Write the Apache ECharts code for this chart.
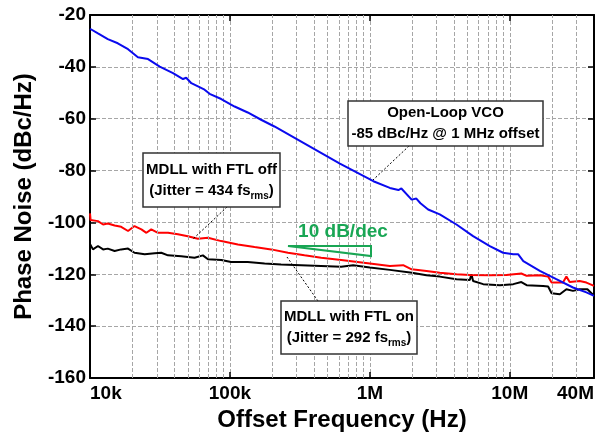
<!DOCTYPE html>
<html>
<head>
<meta charset="utf-8">
<script src="https://cdn.jsdelivr.net/npm/echarts@6/dist/echarts.min.js"></script>
<style>html,body{margin:0;padding:0;background:#fff}#c{width:607px;height:441px}</style>
</head>
<body>
<div id="c"></div>
<script>
// ---- data ----
const xTickValues = [1e4, 1e5, 1e6, 1e7, 4e7];
const xTickLabels = ['10k', '100k', '1M', '10M', '40M'];
const minorGridFreqs = [2e4,3e4,4e4,5e4,6e4,7e4,8e4,9e4,2e5,3e5,4e5,5e5,6e5,7e5,8e5,9e5,2e6,3e6,4e6,5e6,6e6,7e6,8e6,9e6,2e7,3e7];

const vcoFreq = [1.0e4,1.02e4,1.14e4,1.34e4,1.58e4,1.87e4,2.2e4,2.6e4,3.15e4,3.92e4,4.62e4,4.87e4,5.3e4,6.59e4,7.16e4,8.67e4,1.08e5,1.34e5,1.67e5,2.08e5,2.9e5,6.11e5,1.06e6,1.39e6,1.6e6,1.68e6,1.99e6,2.15e6,2.3e6,2.61e6,3.16e6,4.16e6,5.47e6,7.2e6,8.96e6,1.06e7,1.15e7,1.25e7,1.64e7,2.15e7,2.83e7,3.53e7,4.0e7];
const vcoPN   = [-25.3,-25.5,-27.1,-29.3,-30.9,-33.2,-36.3,-37.0,-39.9,-42.4,-44.7,-44.2,-46.3,-48.8,-50.4,-52.4,-55.3,-57.6,-60.4,-63.0,-67.4,-77.3,-84.1,-86.7,-87.5,-86.9,-91.2,-90.8,-92.6,-95.0,-96.9,-100.8,-105.3,-109.1,-111.7,-112.3,-112.3,-114.9,-118.7,-121.9,-125.1,-127.0,-128.3];

const offFreq = [1.0e4,1.01e4,1.14e4,1.24e4,1.34e4,1.5e4,1.67e4,1.87e4,2.08e4,2.33e4,2.53e4,2.74e4,3.06e4,3.61e4,4.25e4,5.0e4,5.9e4,6.97e4,8.67e4,1.14e5,1.5e5,1.97e5,2.6e5,3.41e5,4.49e5,6.24e5,1.0e6,1.39e6,1.73e6,1.99e6,2.54e6,3.16e6,4.16e6,5.18e6,7.2e6,9.46e6,1.21e7,1.32e7,1.64e7,1.88e7,1.99e7,2.4e7,2.54e7,2.68e7,3.16e7,3.53e7,4.0e7];
const offPN   = [-96.5,-99.1,-99.5,-100.8,-100.4,-101.2,-101.7,-103.3,-101.4,-102.7,-104.0,-102.7,-104.0,-104.0,-104.6,-105.3,-106.3,-105.9,-107.2,-108.5,-109.5,-110.4,-111.7,-112.7,-113.6,-114.5,-115.8,-116.8,-116.5,-118.1,-118.7,-119.4,-120.0,-120.3,-120.4,-120.3,-119.7,-120.6,-120.4,-120.9,-123.2,-123.2,-120.9,-123.0,-122.6,-123.2,-124.5];

const onFreq = [1.0e4,1.05e4,1.14e4,1.24e4,1.34e4,1.5e4,1.67e4,1.87e4,2.08e4,2.46e4,2.9e4,3.23e4,3.61e4,4.49e4,5.59e4,6.41e4,6.97e4,8.67e4,1.02e5,1.34e5,1.77e5,2.32e5,3.23e5,4.49e5,6.24e5,7.6e5,1.0e6,1.39e6,2.0e6,2.54e6,3.16e6,4.16e6,5.18e6,5.32e6,5.47e6,6.46e6,8.5e6,1.06e7,1.21e7,1.32e7,1.73e7,1.88e7,1.99e7,2.28e7,2.54e7,2.83e7,3.16e7,3.59e7,4.0e7];
const onPN   = [-108.3,-110.4,-109.1,-110.4,-110.1,-111.0,-110.4,-110.1,-111.7,-112.3,-111.9,-111.7,-112.7,-113.0,-113.6,-112.7,-114.2,-114.5,-115.3,-115.3,-115.8,-116.2,-116.5,-116.8,-117.1,-116.5,-117.4,-118.3,-119.4,-120.4,-120.9,-121.9,-122.2,-120.0,-122.6,-123.8,-124.2,-123.8,-123.0,-124.2,-124.5,-124.7,-127.3,-127.7,-125.8,-126.4,-125.8,-125.8,-128.3];

const pairs = (f, v) => f.map((x, i) => [x, v[i]]);

const FONT = '"Liberation Sans", Arial, sans-serif';
const gridDash = () => ({ color: '#a6a6a6', width: 1, type: 'dashed', opacity: 1 });

const chart = echarts.init(document.getElementById('c'), null, { renderer: 'canvas' });

function fmtX(v) {
  const i = xTickValues.findIndex(t => Math.abs(Math.log10(t) - Math.log10(v)) < 0.01);
  return i >= 0 ? xTickLabels[i] : '';
}

function annBox(x, y, w, h, richText) {
  return {
    type: 'group', children: [
      { type: 'rect', shape: { x: x, y: y, width: w, height: h }, style: { fill: '#fff', stroke: '#333', lineWidth: 1.5 }, z: 100 },
      { type: 'text', x: x + w / 2, y: y + h / 2, z: 101,
        style: {
          text: richText, align: 'center', verticalAlign: 'middle',
          font: 'bold 15px ' + FONT, fill: '#000', lineHeight: 21,
          rich: {
            n: { font: 'bold 15px ' + FONT, fill: '#000', lineHeight: 21 },
            s: { font: 'bold 10px ' + FONT, fill: '#000', verticalAlign: 'bottom', lineHeight: 14 }
          }
        } }
    ]
  };
}

chart.setOption({
  animation: false,
  grid: { left: 90, right: 13, top: 15, bottom: 63, containLabel: false },
  xAxis: [{
    type: 'log', logBase: 10, min: 1e4, max: 4e7,
    name: 'Offset Frequency (Hz)', nameLocation: 'middle', nameGap: 28,
    nameTextStyle: { fontFamily: FONT, fontWeight: 'bold', fontSize: 24, color: '#000' },
    axisLine: { lineStyle: { color: '#000', width: 2 } },
    axisTick: { inside: true, length: 6, lineStyle: { color: '#000', width: 1.5 } },
    axisLabel: { formatter: fmtX, fontFamily: FONT, fontWeight: 'bold', fontSize: 19, color: '#000', margin: 6, alignMinLabel: 'left', alignMaxLabel: 'right' },
    splitLine: { show: true, lineStyle: gridDash() }
  }, {
    type: 'log', logBase: 10, min: 1e4, max: 4e7, position: 'top',
    axisLine: { lineStyle: { color: '#000', width: 2 } },
    axisTick: { inside: true, length: 6, lineStyle: { color: '#000', width: 1.5 } },
    axisLabel: { show: false }, splitLine: { show: false }
  }],
  yAxis: [{
    type: 'value', min: -160, max: -20, interval: 20,
    name: 'Phase Noise (dBc/Hz)', nameLocation: 'middle', nameGap: 54,
    nameTextStyle: { fontFamily: FONT, fontWeight: 'bold', fontSize: 24, color: '#000' },
    axisLine: { show: true, lineStyle: { color: '#000', width: 2 } },
    axisTick: { show: true, inside: true, length: 6, lineStyle: { color: '#000', width: 1.5 } },
    axisLabel: { fontFamily: FONT, fontWeight: 'bold', fontSize: 19, color: '#000', margin: 4 },
    splitLine: { show: true, lineStyle: gridDash() }
  }, {
    type: 'value', min: -160, max: -20, interval: 20, position: 'right',
    axisLine: { show: true, lineStyle: { color: '#000', width: 2 } },
    axisTick: { show: true, inside: true, length: 6, lineStyle: { color: '#000', width: 1.5 } },
    axisLabel: { show: false }, splitLine: { show: false }
  }],
  series: [
    {
      name: 'MDLL with FTL on', type: 'line', data: pairs(onFreq, onPN), showSymbol: false,
      lineStyle: { color: '#000', width: 2 }, itemStyle: { color: '#000' }, z: 3,
      markLine: {
        silent: true, symbol: ['none', 'none'], label: { show: false }, animation: false,
        lineStyle: gridDash(), emphasis: { disabled: true },
        data: minorGridFreqs.map(f => ({ xAxis: f }))
      }
    },
    {
      name: 'MDLL with FTL off', type: 'line', data: pairs(offFreq, offPN), showSymbol: false,
      lineStyle: { color: '#ff0000', width: 2 }, itemStyle: { color: '#ff0000' }, z: 4
    },
    {
      name: 'Open-Loop VCO', type: 'line', data: pairs(vcoFreq, vcoPN), showSymbol: false,
      lineStyle: { color: '#0a0aee', width: 2 }, itemStyle: { color: '#0a0aee' }, z: 5
    }
  ],
  graphic: [
    { type: 'line', z: 99, shape: { x1: 409, y1: 146, x2: 373, y2: 180 }, style: { stroke: '#000', lineWidth: 1, lineDash: [2, 2] } },
    { type: 'line', z: 99, shape: { x1: 227, y1: 207, x2: 193, y2: 239 }, style: { stroke: '#000', lineWidth: 1, lineDash: [2, 2] } },
    { type: 'line', z: 99, shape: { x1: 318, y1: 301, x2: 287, y2: 257 }, style: { stroke: '#000', lineWidth: 1, lineDash: [2, 2] } },
    annBox(348, 101, 195, 45, '{n|Open-Loop VCO}\n{n|-85 dBc/Hz @ 1 MHz offset}'),
    annBox(143, 153, 137, 54, '{n|MDLL with FTL off}\n{n|(Jitter = 434 fs}{s|rms}{n|)}'),
    annBox(281, 301, 136, 53, '{n|MDLL with FTL on}\n{n|(Jitter = 292 fs}{s|rms}{n|)}'),
    { type: 'polygon', z: 99, shape: { points: [[288, 246], [371, 246], [371, 256]] }, style: { fill: 'none', stroke: '#19a654', lineWidth: 2 } },
    { type: 'text', z: 99, x: 343, y: 232, style: { text: '10 dB/dec', align: 'center', verticalAlign: 'middle', font: 'bold 19px ' + FONT, fill: '#19a654' } }
  ]
});
</script>
</body>
</html>
